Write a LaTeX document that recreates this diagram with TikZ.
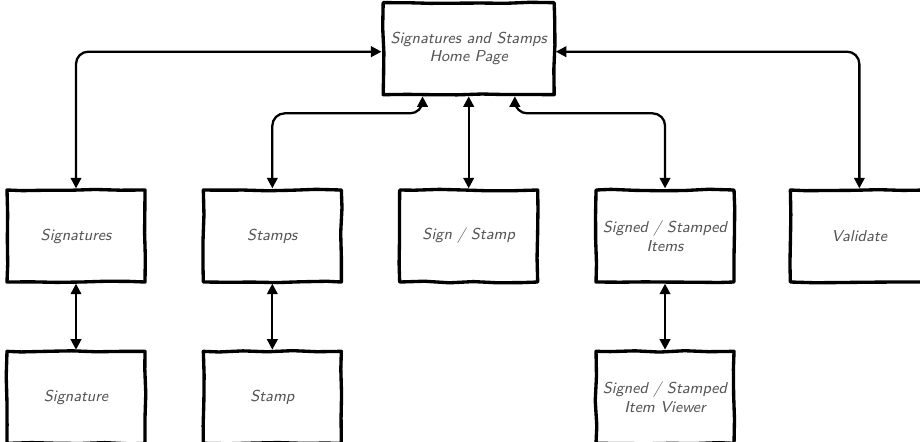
\documentclass[tikz,border=0pt]{standalone}
\usetikzlibrary{positioning,calc}
\usetikzlibrary{arrows.meta}
\usetikzlibrary{decorations.pathmorphing}

\definecolor{inkgray}{RGB}{85,85,85}

\tikzset{
   page/.style={draw=black, line width=1.9pt, minimum width=2.76cm,
      minimum height=1.84cm, align=center, text=inkgray,
      font=\sffamily\itshape\fontsize{9}{10.5}\selectfont,
      line join=round, decorate,
      decoration={random steps, segment length=14pt, amplitude=0.45pt}},
   link/.style={line width=1.3pt, rounded corners=7pt,
      {Triangle[length=6pt,width=6pt]}-{Triangle[length=6pt,width=6pt]}}
}

\begin{document}
\begin{tikzpicture}
   \pgfmathsetseed{7}
   \useasboundingbox (0,0) rectangle (18.4,-8.82);

   % second row of pages
   \node[page]                          (sigs)     at (1.52,-4.72) {Signatures};
   \node[page, right=1.1cm of sigs]     (stamps)   {Stamps};
   \node[page, right=1.1cm of stamps]   (sign)     {Sign / Stamp};
   \node[page, right=1.1cm of sign]     (items)    {Signed / Stamped\\Items};
   \node[page, right=1.06cm of items]   (validate) {Validate};

   % home page
   \node[page, minimum width=3.42cm, above=1.84cm of sign] (home)
      {Signatures and Stamps\\Home Page};

   % detail pages
   \node[page, below=1.32cm of sigs]    (sig)    {Signature};
   \node[page, below=1.32cm of stamps]  (stamp)  {Stamp};
   \node[page, below=1.32cm of items]   (viewer) {Signed / Stamped\\Item Viewer};

   % entry points on the home page
   \coordinate (hw) at ($(home.west)+(0,-0.06)$);
   \coordinate (he) at ($(home.east)+(0,-0.06)$);
   \coordinate (hs) at ($(home.south west)+(0.82,0)$);
   \coordinate (hi) at ($(home.south east)+(-0.82,0)$);

   \draw[link] (sigs.north) |- (hw);
   \draw[link] (validate.north) |- (he);
   \draw[link] (stamps.north) -- ++(0,1.5) -| (hs);
   \draw[link] (items.north) -- ++(0,1.5) -| (hi);
   \draw[link] (sign.north) -- (sign.north |- home.south);

   % down to the detail pages
   \draw[link] (sigs.south)   -- (sig.north);
   \draw[link] (stamps.south) -- (stamp.north);
   \draw[link] (items.south)  -- (viewer.north);
\end{tikzpicture}
\end{document}
